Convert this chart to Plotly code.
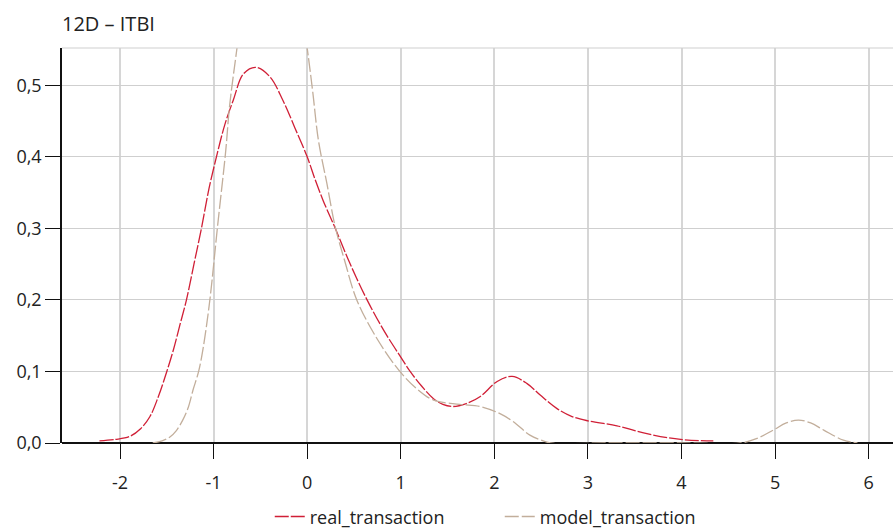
import plotly.graph_objects as go

# Density estimates for the two transaction series
real_x = [-2.22, -2.05, -1.90, -1.78, -1.68, -1.59, -1.50, -1.43, -1.36, -1.29, -1.21,
          -1.13, -1.05, -0.96, -0.88, -0.79, -0.68, -0.55, -0.40, -0.26, -0.13, 0.00,
          0.08, 0.17, 0.30, 0.46, 0.64, 0.82, 1.00, 1.10, 1.22, 1.35, 1.45, 1.56, 1.70,
          1.85, 2.03, 2.19, 2.35, 2.49, 2.67, 2.83, 3.00, 3.31, 3.63, 3.99, 4.34]
real_y = [0.003, 0.005, 0.009, 0.020, 0.037, 0.065, 0.100, 0.130, 0.165, 0.200, 0.250,
          0.300, 0.355, 0.405, 0.445, 0.479, 0.516, 0.525, 0.512, 0.479, 0.440, 0.400,
          0.370, 0.339, 0.300, 0.250, 0.200, 0.157, 0.120, 0.100, 0.080, 0.062, 0.054,
          0.051, 0.055, 0.065, 0.086, 0.093, 0.083, 0.067, 0.048, 0.037, 0.031, 0.024,
          0.013, 0.005, 0.003]

model_x = [-1.65, -1.55, -1.47, -1.40, -1.33, -1.27, -1.22, -1.16, -1.11, -1.04, -0.96,
           -0.87, -0.83, -0.75, -0.60, -0.38, -0.18, 0.00, 0.06, 0.12, 0.21, 0.30, 0.40,
           0.53, 0.75, 0.99, 1.17, 1.35, 1.63, 1.85, 2.06, 2.20, 2.38, 2.50, 2.60, 3.20,
           4.00, 4.63, 4.80, 4.98, 5.12, 5.25, 5.38, 5.52, 5.73, 5.88]
model_y = [0.000, 0.003, 0.008, 0.017, 0.032, 0.050, 0.074, 0.100, 0.134, 0.200, 0.300,
           0.409, 0.470, 0.552, 0.700, 0.780, 0.720, 0.552, 0.490, 0.423, 0.363, 0.302,
           0.255, 0.200, 0.145, 0.100, 0.076, 0.060, 0.054, 0.051, 0.041, 0.030, 0.011,
           0.004, 0.000, 0.000, 0.000, 0.000, 0.006, 0.018, 0.028, 0.032, 0.028, 0.018,
           0.004, 0.000]

x_ticks = [-2, -1, 0, 1, 2, 3, 4, 5, 6]
x_tick_text = ["-2", "-1", "0", "1", "2", "3", "4", "5", "6"]

RED = "#d01f36"
TAN = "#c2ae9b"
FONT = "Open Sans"
INK = "#222222"

fig = go.Figure()
fig.add_trace(go.Scatter(
    x=real_x, y=real_y, name="real_transaction", mode="lines",
    line=dict(color=RED, width=1.3, dash="14px,2px", shape="spline", smoothing=1.0),
))
fig.add_trace(go.Scatter(
    x=model_x, y=model_y, name="model_transaction", mode="lines",
    line=dict(color=TAN, width=1.3, dash="14px,3px", shape="spline", smoothing=1.0),
))

fig.update_layout(
    width=893, height=528,
    margin=dict(l=62, r=0, t=48, b=85, autoexpand=False),
    paper_bgcolor="white", plot_bgcolor="white",
    separators=",.",
    font=dict(family=FONT, size=18, color=INK),
    title=dict(text="12D – ITBI", x=0, xref="paper", xanchor="left",
               y=0.955, yanchor="middle", font=dict(family=FONT, size=20, color=INK)),
    showlegend=True,
    legend=dict(orientation="h", x=0.25, xanchor="left", y=-0.14, yanchor="top",
                font=dict(family=FONT, size=18, color=INK), itemwidth=30,
                entrywidth=185, entrywidthmode="pixels"),
    xaxis=dict(range=[-2.62, 6.26], tickmode="array", tickvals=x_ticks, ticktext=x_tick_text,
               showgrid=True, gridcolor="#d6d6d6", gridwidth=1.5,
               zeroline=False, showline=False,
               ticks="outside", ticklen=15, tickcolor="#111111", tickwidth=1.3,
               ticklabelstandoff=8,
               tickfont=dict(family=FONT, size=18, color=INK), fixedrange=True),
    yaxis=dict(range=[0, 0.552], tickmode="linear", tick0=0, dtick=0.1, tickformat=".1f",
               showgrid=True, gridcolor="#cfcfcf", gridwidth=1.2,
               zeroline=True, zerolinecolor="#111111", zerolinewidth=1.5,
               showline=True, linecolor="#111111", linewidth=1.5,
               ticks="outside", ticklen=15, tickcolor="#111111", tickwidth=1.3,
               tickfont=dict(family=FONT, size=18, color=INK), fixedrange=True),
)

# light frame line along the top of the plotting area
fig.add_shape(type="line", xref="paper", yref="paper", x0=0, x1=1, y0=1, y1=1,
              line=dict(color="#cfcfcf", width=1.2))

fig.write_html("out.html")
